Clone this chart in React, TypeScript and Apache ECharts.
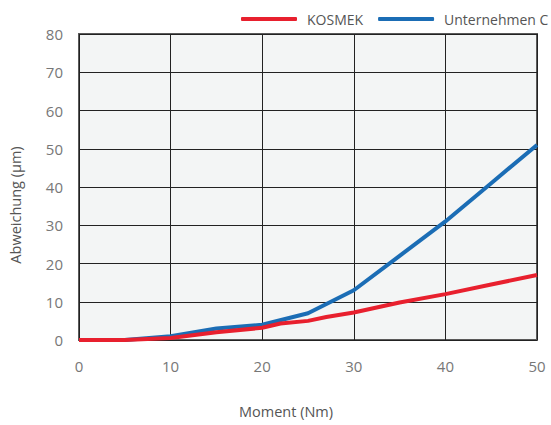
import React, { useEffect, useRef } from "react";
import * as echarts from "echarts";

const kosmekData: [number, number][] = [
  [0, 0], [5, 0], [10, 0.5], [15, 2], [20, 3.2], [22, 4.3], [25, 5], [27, 6],
  [30, 7.2], [35, 9.8], [40, 12], [45, 14.5], [50, 17],
];
const companyCData: [number, number][] = [
  [0, 0], [5, 0], [10, 1], [15, 3], [20, 4], [25, 7], [30, 13], [35, 22],
  [40, 31], [45, 41], [50, 51],
];
const seriesNames = ["KOSMEK", "Unternehmen C"];

export default function App() {
  const ref = useRef<HTMLDivElement>(null);
  useEffect(() => {
    if (!ref.current) return;
    const chart = echarts.init(ref.current, null, { renderer: "svg" });
    const font = "Open Sans";
    const legendFont = "Open Sans";
    chart.setOption({
      animation: false,
      textStyle: { fontFamily: font },
      legend: {
        left: 236,
        top: 7,
        width: 400,
        itemWidth: 56,
        itemHeight: 4,
        itemGap: 15,
        icon: "roundRect",
        textStyle: { fontSize: 14, color: "#555", fontFamily: legendFont, padding: [0, 0, 0, 5] },
        data: seriesNames,
      },
      grid: {
        left: 77,
        right: 14,
        top: 34,
        bottom: 85,
        show: true,
        backgroundColor: "#f3f5f5",
        borderColor: "#5a5a5a",
        borderWidth: 2,
        containLabel: false,
      },
      xAxis: {
        type: "value",
        min: 0,
        max: 50,
        interval: 10,
        name: "Moment (Nm)",
        nameLocation: "middle",
        nameGap: 64,
        nameTextStyle: { fontSize: 14.5, color: "#555", fontFamily: font, padding: [0, 44, 0, 0] },
        axisLine: { show: false },
        axisTick: { show: false },
        axisLabel: { fontSize: 15, color: "#777", margin: 18, fontFamily: font },
        splitLine: { lineStyle: { color: "#222", width: 1 } },
      },
      yAxis: {
        type: "value",
        min: 0,
        max: 80,
        interval: 10,
        name: "Abweichung (µm)",
        nameLocation: "middle",
        nameGap: 56,
        nameTextStyle: { fontSize: 14.5, color: "#555", fontFamily: font, padding: [0, 36, 0, 0] },
        axisLine: { show: false },
        axisTick: { show: false },
        axisLabel: { fontSize: 15, color: "#777", margin: 16, fontFamily: font },
        splitLine: { lineStyle: { color: "#222", width: 1 } },
      },
      series: [
        {
          name: seriesNames[0],
          type: "line",
          data: kosmekData,
          showSymbol: false,
          lineStyle: { color: "#e8202e", width: 4 },
          itemStyle: { color: "#e8202e" },
          z: 3,
        },
        {
          name: seriesNames[1],
          type: "line",
          data: companyCData,
          showSymbol: false,
          lineStyle: { color: "#1b6db5", width: 4 },
          itemStyle: { color: "#1b6db5" },
          z: 2,
        },
      ],
    });
    return () => chart.dispose();
  }, []);
  return <div ref={ref} style={{ width: 551, height: 425, position: "absolute", left: 0, top: 0 }} />;
}
